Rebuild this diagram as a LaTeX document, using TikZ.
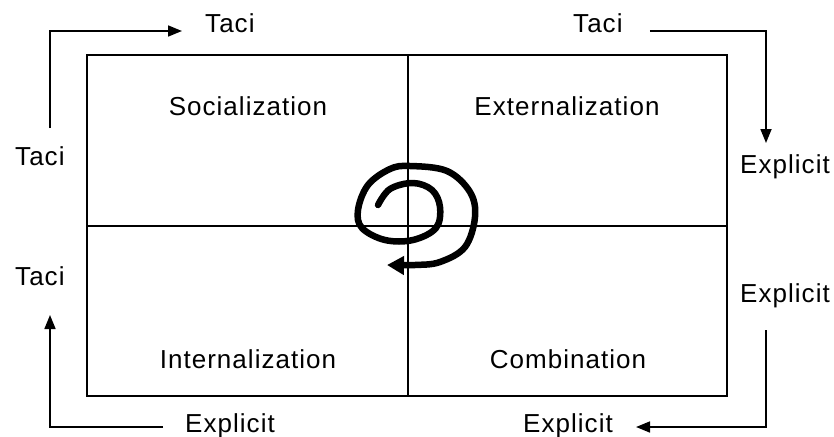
\documentclass[tikz,border=0pt]{standalone}
\usepackage{fontspec}
\setmainfont{Liberation Sans}[LetterSpace=4]
\usetikzlibrary{arrows.meta}

\begin{document}
\begin{tikzpicture}[x=1pt,y=-1pt,>={Triangle[length=14pt,width=11pt]},
    lbl/.style={inner sep=0pt,anchor=base west,font=\fontsize{26}{30}\selectfont},
    quad/.style={inner sep=0pt,anchor=base,font=\fontsize{26}{30}\selectfont},
    flow/.style={->,line width=1.7pt},
    grid/.style={line width=1.7pt},
    swirl/.style={-{Triangle[length=17pt,width=18pt]},line width=6.5pt,line join=round,line cap=round}]
  \useasboundingbox (0,0) rectangle (834,436);
  \draw[grid] (87,55) rectangle (727,396);
  \draw[grid] (408,55) -- (408,396) (87,226) -- (727,226);

  \node[quad] (soc) at (248,115) {Socialization};
  \node[quad] (ext) at (567,115) {Externalization};
  \node[quad] (int) at (248,368) {Internalization};
  \node[quad] (com) at (568,368) {Combination};

  \node[lbl] (taciT) at (205,33) {Taci};
  \node[lbl] (taciR) at (573,33) {Taci};
  \node[lbl] (taciL) at (15,165) {Taci};
  \node[lbl] (taciL2) at (15,285) {Taci};
  \node[lbl] (explR) at (740,173) {Explicit};
  \node[lbl] (explR2) at (740,302) {Explicit};
  \node[lbl] (explB) at (185,432) {Explicit};
  \node[lbl] (explB2) at (523,432) {Explicit};

  \draw[flow] ([shift={(35,-37)}]taciL.base west) |- ([shift={(-23,-2)}]taciT.base west);
  \draw[flow] ([shift={(27,-2)}]taciR.base east) -| ([shift={(26,-30)}]explR.base west);
  \draw[flow] ([shift={(26,28)}]explR2.base west) |- ([shift={(23,-5)}]explB2.base east);
  \draw[flow] ([shift={(-22,-5)}]explB.base west) -| ([shift={(35,30)}]taciL2.base west);

  \draw[swirl] plot[smooth,tension=0.6] coordinates {(378,205) (390,189) (413,183) (432,190)
    (440,207) (436,228) (413,240) (385,240) (362,228) (358,210) (368,185) (390,169) (410,166)
    (447,171) (470,192) (475,217) (465,247) (440,262) (415,265) (387,265)};
\end{tikzpicture}
\end{document}
